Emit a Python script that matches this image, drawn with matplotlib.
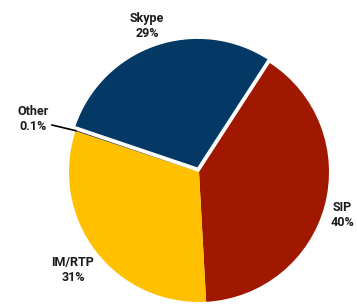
import matplotlib.pyplot as plt
import numpy as np

# shares in percent, clockwise from the top-right edge
labels = ['SIP', 'IM/RTP', 'Other', 'Skype']
shares = [40, 31, 0.1, 29]
pct_text = ['40%', '31%', '0.1%', '29%']
colors = ['#A01800', '#FFC000', '#222222', '#043966']
explode = [0, 0, 0, 4]   # data units (pixels here)

fig = plt.figure(figsize=(3.57, 3.04), dpi=100)
ax = fig.add_axes([0, 0, 1, 1])

cx, cy, r = 199, 132, 130
wedges, _ = ax.pie(shares, colors=colors, explode=explode, startangle=57, counterclock=False,
                   center=(cx, cy), radius=r, frame=True,
                   wedgeprops=dict(linewidth=0))
wedges[3].set_edgecolor('white')
wedges[3].set_linewidth(1.0)
ax.set_xlim(0, 357)
ax.set_ylim(0, 304)
ax.set_aspect('equal')
ax.axis('off')

font = dict(family=['Roboto', 'DejaVu Sans'], fontsize=9,
            color='#1a1a1a', ha='center', va='center', fontweight='bold')
label_pos = {'SIP': (342, 89), 'IM/RTP': (73, 34), 'Other': (33, 185), 'Skype': (147, 278)}
for lab, pct in zip(labels, pct_text):
    x, y = label_pos[lab]
    ax.text(x, y, lab + '\n' + pct, linespacing=1.25, **font)

# leader line for the tiny "Other" slice
ang = np.deg2rad(57 - 360 * (shares[0] + shares[1] + shares[2] / 2) / sum(shares))
ax.plot([52, cx + r * np.cos(ang)], [179, cy + r * np.sin(ang)], color='black', lw=1.2)

fig.savefig('out.png', dpi=100)
